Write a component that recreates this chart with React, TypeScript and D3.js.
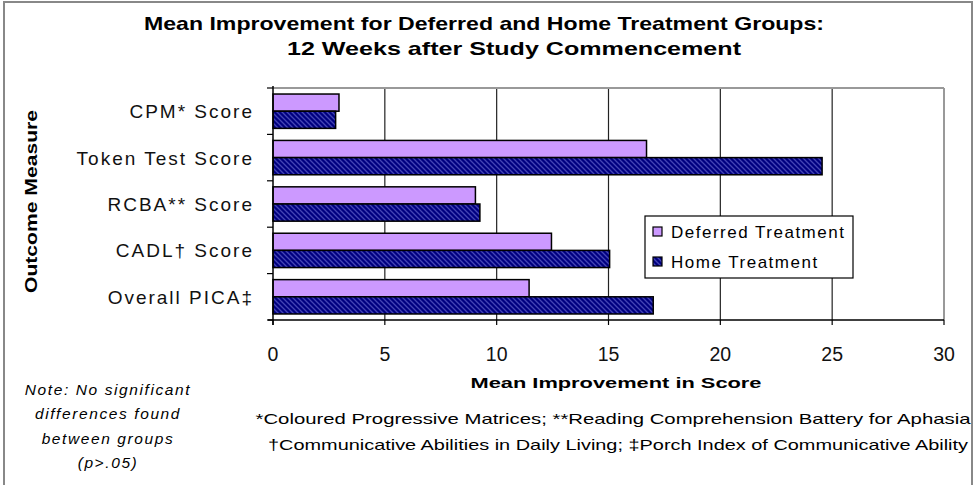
import * as d3 from "d3";

const categories = [
  "CPM* Score",
  "Token Test Score",
  "RCBA** Score",
  "CADL† Score",
  "Overall PICA‡",
];
const deferred = [2.95, 16.7, 9.05, 12.45, 11.45];
const home = [2.8, 24.55, 9.25, 15.05, 17.0];
const seriesNames = ["Deferred Treatment", "Home Treatment"];
const xTicks = [0, 5, 10, 15, 20, 25, 30];
const noteLines = ["Note: No significant", "differences found", "between groups", "(p>.05)"];

const W = 974;
const H = 485;
const left = 273;
const right = 944;
const top = 88;
const bottom = 320;

export default function App() {
  const x = d3.scaleLinear().domain([0, 30]).range([left, right]);
  const y = d3.scaleBand().domain(categories).range([top, bottom]).paddingInner(0.26).paddingOuter(0.13);
  const sub = d3.scaleBand().domain(["d", "h"]).range([0, y.bandwidth()]);
  const bandStep = (bottom - top) / categories.length;
  const font = "Arial, 'Liberation Sans', sans-serif";

  return (
    <svg
      width={W}
      height={H}
      style={{ position: "absolute", left: 0, top: 0, background: "#fff" }}
      fontFamily={font}
    >
      <defs>
        <pattern id="hatch" width="5" height="5" patternUnits="userSpaceOnUse">
          <rect width="5" height="5" fill="#000080" />
          <path d="M0,0 L5,5 M-2,3 L2,7 M3,-2 L7,2" stroke="#4545b5" strokeWidth="1.3" />
        </pattern>
      </defs>
      <rect x={4} y={2} width={968} height={490} fill="none" stroke="#888" strokeWidth={2} />

      {/* title */}
      <text x={484} y={30} textAnchor="middle" fontSize={19} fontWeight="bold" textLength={680} lengthAdjust="spacingAndGlyphs">
        Mean Improvement for Deferred and Home Treatment Groups:
      </text>
      <text x={514} y={55} textAnchor="middle" fontSize={19} fontWeight="bold" textLength={454} lengthAdjust="spacingAndGlyphs">
        12 Weeks after Study Commencement
      </text>

      {/* grid */}
      {xTicks.slice(1, -1).map((t) => (
        <line key={t} x1={x(t)} x2={x(t)} y1={top} y2={bottom} stroke="#222" strokeWidth={1.2} />
      ))}
      <line x1={left} x2={right} y1={top} y2={top} stroke="#999" strokeWidth={2} />
      <line x1={right} x2={right} y1={top} y2={bottom} stroke="#999" strokeWidth={2} />

      {/* bars */}
      {categories.map((c, i) => (
        <g key={c}>
          <rect
            x={x(0)}
            y={y(c)! + sub("d")!}
            width={x(deferred[i]) - x(0)}
            height={sub.bandwidth()}
            fill="#cc99ff"
            stroke="#000"
            strokeWidth={1.5}
          />
          <rect
            x={x(0)}
            y={y(c)! + sub("h")!}
            width={x(home[i]) - x(0)}
            height={sub.bandwidth()}
            fill="url(#hatch)"
            stroke="#000"
            strokeWidth={1.5}
          />
        </g>
      ))}

      {/* axes */}
      <line x1={left} x2={left} y1={top - 2} y2={bottom + 5} stroke="#000" strokeWidth={1.5} />
      <line x1={left - 5} x2={right} y1={bottom} y2={bottom} stroke="#000" strokeWidth={1.5} />
      {d3.range(categories.length + 1).map((i) => (
        <line key={i} x1={left - 6} x2={left} y1={top + i * bandStep} y2={top + i * bandStep} stroke="#000" strokeWidth={1.2} />
      ))}
      {xTicks.map((t) => (
        <g key={t}>
          <line x1={x(t)} x2={x(t)} y1={bottom} y2={bottom + 5} stroke="#000" strokeWidth={1.2} />
          <text x={x(t)} y={361} textAnchor="middle" fontSize={19.5} fill="#111">
            {t}
          </text>
        </g>
      ))}
      {categories.map((c) => (
        <text key={c} x={254} y={y(c)! + y.bandwidth() / 2 + 7} textAnchor="end" fontSize={19} letterSpacing={2} fill="#111">
          {c}
        </text>
      ))}
      <text
        transform={`translate(37,${(110 + 293) / 2}) rotate(-90)`}
        textAnchor="middle"
        fontSize={17}
        fontWeight="bold"
        textLength={183}
        lengthAdjust="spacingAndGlyphs"
      >
        Outcome Measure
      </text>
      <text x={616} y={388} textAnchor="middle" fontSize={15} fontWeight="bold" textLength={291} lengthAdjust="spacingAndGlyphs">
        Mean Improvement in Score
      </text>

      {/* legend */}
      <rect x={645} y={216} width={208} height={62} fill="#fff" stroke="#000" strokeWidth={1.2} />
      {seriesNames.map((s, i) => (
        <g key={s}>
          <rect x={653} y={227 + i * 30} width={9} height={9} fill={i === 0 ? "#cc99ff" : "url(#hatch)"} stroke="#000" strokeWidth={1.2} />
          <text x={671} y={238 + i * 30} fontSize={17} letterSpacing={1.5}>
            {s}
          </text>
        </g>
      ))}

      {/* notes */}
      {noteLines.map((t, i) => (
        <text key={t} x={108} y={395 + i * 24.3} textAnchor="middle" fontSize={15.5} fontStyle="italic" letterSpacing={1.6}>
          {t}
        </text>
      ))}
      <text x={613} y={424} textAnchor="middle" fontSize={15} textLength={715} lengthAdjust="spacingAndGlyphs">
        *Coloured Progressive Matrices; **Reading Comprehension Battery for Aphasia
      </text>
      <text x={618} y={450} textAnchor="middle" fontSize={15} textLength={700} lengthAdjust="spacingAndGlyphs">
        †Communicative Abilities in Daily Living; ‡Porch Index of Communicative Ability
      </text>
    </svg>
  );
}
